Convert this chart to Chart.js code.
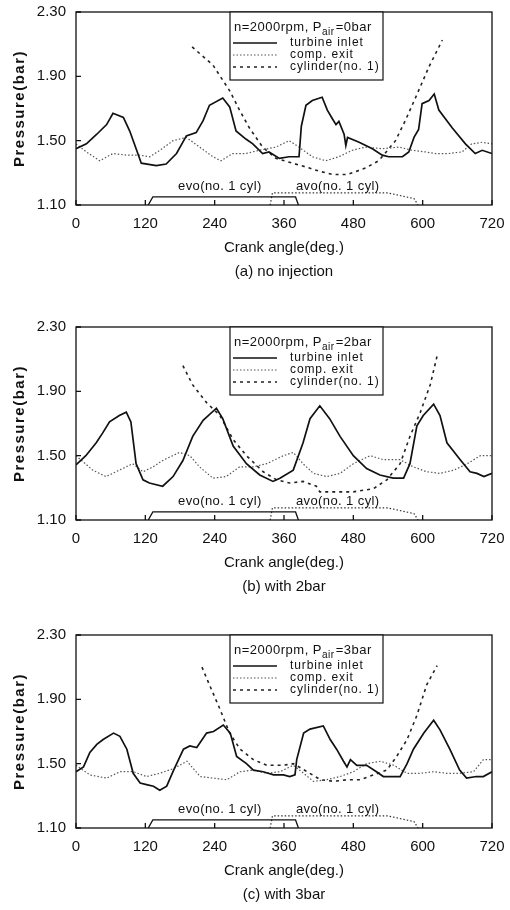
<!DOCTYPE html>
<html>
<head>
<meta charset="utf-8">
<script src="https://cdn.jsdelivr.net/npm/chart.js@4.4.0/dist/chart.umd.min.js"></script>
<style>
  body { margin: 0; background: #fff; width: 510px; height: 910px; overflow: hidden; position: relative; }
  .panel { position: absolute; left: 0; width: 510px; height: 290px; }
</style>
</head>
<body>
<div class="panel" style="top:0px"><canvas id="c1" width="510" height="290"></canvas></div>
<div class="panel" style="top:315px"><canvas id="c2" width="510" height="290"></canvas></div>
<div class="panel" style="top:623px"><canvas id="c3" width="510" height="290"></canvas></div>
<script>
// tick labels
const xTicks = [0, 120, 240, 360, 480, 600, 720];
const yTicks = [1.10, 1.50, 1.90, 2.30];
const legendLabels = ['turbine inlet', 'comp. exit', 'cylinder(no. 1)'];

// (a) no injection
const turbA_x = [0,18,36,53,64,82,93,105,113,139,156,174,191,208,220,231,254,266,277,294,306,323,334,352,369,386,390,398,409,426,435,444,450,455,464,467,470,490,513,530,541,565,576,585,593,599,611,620,628,651,674,691,703,720];
const turbA_y = [1.45,1.48,1.54,1.60,1.67,1.645,1.56,1.44,1.36,1.345,1.355,1.42,1.53,1.55,1.625,1.72,1.765,1.71,1.56,1.51,1.48,1.42,1.43,1.39,1.40,1.40,1.59,1.72,1.75,1.77,1.69,1.635,1.60,1.62,1.54,1.47,1.52,1.49,1.45,1.41,1.40,1.40,1.43,1.52,1.57,1.73,1.75,1.79,1.69,1.58,1.48,1.42,1.44,1.42];
const compA_x = [0,18,41,64,87,110,128,145,168,191,214,237,251,271,294,317,346,369,386,409,432,455,478,501,530,559,582,605,622,645,668,685,703,720];
const compA_y = [1.48,1.43,1.375,1.42,1.41,1.41,1.40,1.44,1.50,1.52,1.46,1.40,1.375,1.42,1.42,1.44,1.46,1.50,1.46,1.40,1.375,1.40,1.44,1.46,1.45,1.46,1.44,1.43,1.42,1.42,1.43,1.48,1.49,1.48];
const cylA_x = [201,237,266,283,300,323,346,375,404,421,444,470,501,524,553,570,588,611,634];
const cylA_y = [2.083,1.97,1.81,1.69,1.58,1.46,1.39,1.36,1.33,1.31,1.29,1.29,1.33,1.375,1.50,1.625,1.77,1.96,2.125];

// (b) with 2bar
const turbB_x = [0,17,35,46,58,75,87,95,104,116,127,150,168,185,202,220,243,254,272,295,318,341,353,376,393,405,422,439,457,480,503,526,549,567,578,590,601,619,630,642,665,682,694,706,720];
const turbB_y = [1.443,1.50,1.58,1.64,1.71,1.75,1.77,1.71,1.45,1.35,1.33,1.31,1.37,1.47,1.62,1.72,1.795,1.73,1.56,1.45,1.38,1.34,1.36,1.41,1.58,1.73,1.81,1.73,1.62,1.50,1.42,1.38,1.36,1.36,1.45,1.685,1.75,1.82,1.75,1.58,1.475,1.40,1.39,1.37,1.39];
const compB_x = [0,29,52,75,98,116,133,150,179,197,214,237,260,283,306,330,359,376,393,411,434,457,480,509,532,561,584,607,630,654,677,700,720];
const compB_y = [1.50,1.41,1.37,1.41,1.45,1.40,1.43,1.47,1.52,1.50,1.43,1.36,1.37,1.43,1.43,1.45,1.50,1.52,1.45,1.39,1.37,1.39,1.45,1.50,1.475,1.475,1.43,1.40,1.39,1.41,1.45,1.50,1.50];
const cylB_x = [185,202,226,249,272,295,324,347,370,393,416,422,445,480,515,538,561,578,596,613,625];
const cylB_y = [2.06,1.94,1.83,1.75,1.60,1.50,1.40,1.35,1.33,1.34,1.31,1.275,1.275,1.275,1.295,1.35,1.45,1.62,1.77,1.94,2.12];

// (c) with 3bar
const turbC_x = [0,13,24,36,47,65,76,88,99,111,122,134,145,157,169,186,197,209,226,238,255,267,278,295,307,324,342,359,370,379,382,394,405,428,440,451,463,469,475,486,503,520,532,550,561,573,584,602,619,630,647,664,676,693,705,720];
const turbC_y = [1.45,1.48,1.57,1.62,1.65,1.69,1.67,1.59,1.44,1.38,1.37,1.36,1.335,1.36,1.46,1.59,1.61,1.60,1.69,1.70,1.74,1.69,1.545,1.50,1.46,1.45,1.43,1.43,1.42,1.43,1.525,1.69,1.715,1.735,1.65,1.59,1.515,1.48,1.525,1.49,1.49,1.45,1.42,1.42,1.42,1.50,1.59,1.69,1.77,1.71,1.59,1.46,1.41,1.42,1.42,1.45];
const compC_x = [0,24,53,76,99,122,145,169,192,215,238,261,284,307,330,353,376,394,411,434,457,480,503,527,550,573,596,619,642,664,688,705,720];
const compC_y = [1.49,1.43,1.41,1.45,1.45,1.42,1.44,1.47,1.515,1.42,1.41,1.40,1.45,1.46,1.44,1.45,1.49,1.44,1.39,1.40,1.42,1.45,1.50,1.515,1.49,1.44,1.44,1.45,1.44,1.44,1.45,1.525,1.525];
const cylC_x = [218,231,249,266,284,307,330,359,376,400,423,446,469,492,515,538,555,573,590,607,625];
const cylC_y = [2.10,1.99,1.84,1.69,1.59,1.525,1.49,1.49,1.50,1.45,1.40,1.39,1.40,1.40,1.43,1.46,1.545,1.65,1.80,1.99,2.11];

// valve events (same in all three)
const evo_x = [125,133,380,385];
const evo_y = [1.10,1.15,1.15,1.10];
const avo_x = [336,340,540,585,592];
const avo_y = [1.10,1.175,1.175,1.14,1.10];

const FONT = '"Liberation Sans", Arial, Helvetica, sans-serif';
Chart.defaults.font.family = FONT;
Chart.defaults.color = '#111';
Chart.defaults.animation = false;

function pts(xs, ys) {
  return xs.map((x, i) => ({ x: x, y: ys[i] }));
}

// frame, inward ticks, labels, boxed legend
const paper = {
  id: 'paper',
  afterDatasetsDraw(chart, args, o) {
    const ctx = chart.ctx, a = chart.chartArea;
    const x = chart.scales.x, y = chart.scales.y;
    ctx.save();
    ctx.strokeStyle = '#111';
    ctx.lineWidth = 1.3;
    ctx.strokeRect(a.left, a.top, a.right - a.left, a.bottom - a.top);
    ctx.beginPath();
    xTicks.forEach(v => {
      const px = x.getPixelForValue(v);
      ctx.moveTo(px, a.bottom); ctx.lineTo(px, a.bottom - 5);
    });
    yTicks.forEach(v => {
      const py = y.getPixelForValue(v);
      ctx.moveTo(a.left, py); ctx.lineTo(a.left + 5, py);
    });
    ctx.stroke();

    ctx.fillStyle = '#111';
    ctx.textAlign = 'center';
    ctx.textBaseline = 'middle';
    ctx.font = '13px ' + FONT;
    ctx.letterSpacing = '0.4px';
    ctx.fillText('evo(no. 1 cyl)', x.getPixelForValue(249), y.getPixelForValue(1.215));
    ctx.fillText('avo(no. 1 cyl)', x.getPixelForValue(453), y.getPixelForValue(1.215));
    ctx.letterSpacing = '0px';

    // axis titles and caption
    ctx.font = '15px ' + FONT;
    const cx = (a.left + a.right) / 2;
    ctx.fillText('Crank angle(deg.)', cx, a.bottom + 43);
    ctx.fillText(o.caption, cx, a.bottom + 67);

    ctx.save();
    ctx.translate(20, (a.top + a.bottom) / 2);
    ctx.rotate(-Math.PI / 2);
    ctx.font = 'bold 15px ' + FONT;
    ctx.letterSpacing = '1.5px';
    ctx.fillText('Pressure(bar)', 0, 0);
    ctx.restore();

    // legend
    const bx = a.left + 154, by = a.top, bw = 153, bh = 68;
    ctx.fillStyle = '#fff';
    ctx.fillRect(bx, by, bw, bh);
    ctx.lineWidth = 1.2;
    ctx.strokeStyle = '#111';
    ctx.strokeRect(bx, by, bw, bh);

    ctx.fillStyle = '#111';
    ctx.textAlign = 'left';
    ctx.textBaseline = 'alphabetic';
    ctx.letterSpacing = '0.5px';
    let tx = bx + 4;
    ctx.font = '13px ' + FONT;
    ctx.fillText('n=2000rpm, P', tx, by + 19);
    tx += ctx.measureText('n=2000rpm, P').width;
    ctx.font = '10px ' + FONT;
    ctx.fillText('air', tx, by + 23);
    tx += ctx.measureText('air').width + 1;
    ctx.font = '13px ' + FONT;
    ctx.fillText('=' + o.pair, tx, by + 19);

    ctx.textBaseline = 'middle';
    ctx.font = '12px ' + FONT;
    ctx.letterSpacing = '0.9px';
    chart.data.datasets.slice(0, 3).forEach((ds, i) => {
      const yy = by + 31 + 12 * i;
      ctx.beginPath();
      ctx.strokeStyle = ds.borderColor;
      ctx.lineWidth = ds.borderWidth;
      ctx.setLineDash(ds.borderDash || []);
      ctx.moveTo(bx + 3, yy); ctx.lineTo(bx + 47, yy);
      ctx.stroke();
      ctx.setLineDash([]);
      ctx.fillText(legendLabels[i], bx + 60, yy);
    });
    ctx.restore();
  }
};

function makeChart(id, tx, ty, cx, cy, kx, ky, pair, caption) {
  return new Chart(document.getElementById(id), {
    type: 'line',
    data: {
      datasets: [
        { data: pts(tx, ty), borderColor: '#111', borderWidth: 1.7 },
        { data: pts(cx, cy), borderColor: '#555', borderWidth: 1.2, borderDash: [1.5, 2] },
        { data: pts(kx, ky), borderColor: '#222', borderWidth: 1.6, borderDash: [3, 4] },
        { data: pts(evo_x, evo_y), borderColor: '#111', borderWidth: 1.3 },
        { data: pts(avo_x, avo_y), borderColor: '#333', borderWidth: 1.2, borderDash: [1.5, 2] }
      ]
    },
    options: {
      responsive: false,
      parsing: false,
      elements: { point: { radius: 0 }, line: { tension: 0, fill: false } },
      layout: { padding: { left: 0, right: 18, top: 12, bottom: 0 } },
      plugins: {
        legend: { display: false },
        tooltip: { enabled: false },
        paper: { pair: pair, caption: caption }
      },
      scales: {
        x: {
          type: 'linear', min: 0, max: 720,
          afterBuildTicks: s => { s.ticks = xTicks.map(v => ({ value: v })); },
          afterFit: s => { s.height = 85; s.paddingLeft = 0; s.paddingRight = 0; },
          grid: { display: false, drawTicks: false },
          border: { display: false },
          ticks: { padding: 10, font: { size: 15 }, color: '#111', maxRotation: 0, autoSkip: false }
        },
        y: {
          type: 'linear', min: 1.1, max: 2.3,
          afterBuildTicks: s => { s.ticks = yTicks.map(v => ({ value: v })); },
          afterFit: s => { s.width = 76; s.paddingTop = 0; s.paddingBottom = 0; },
          grid: { display: false, drawTicks: false },
          border: { display: false },
          ticks: { padding: 10, font: { size: 15 }, color: '#111', callback: v => Number(v).toFixed(2) }
        }
      }
    },
    plugins: [paper]
  });
}

makeChart('c1', turbA_x, turbA_y, compA_x, compA_y, cylA_x, cylA_y, '0bar', '(a) no injection');
makeChart('c2', turbB_x, turbB_y, compB_x, compB_y, cylB_x, cylB_y, '2bar', '(b) with 2bar');
makeChart('c3', turbC_x, turbC_y, compC_x, compC_y, cylC_x, cylC_y, '3bar', '(c) with 3bar');
</script>
</body>
</html>
